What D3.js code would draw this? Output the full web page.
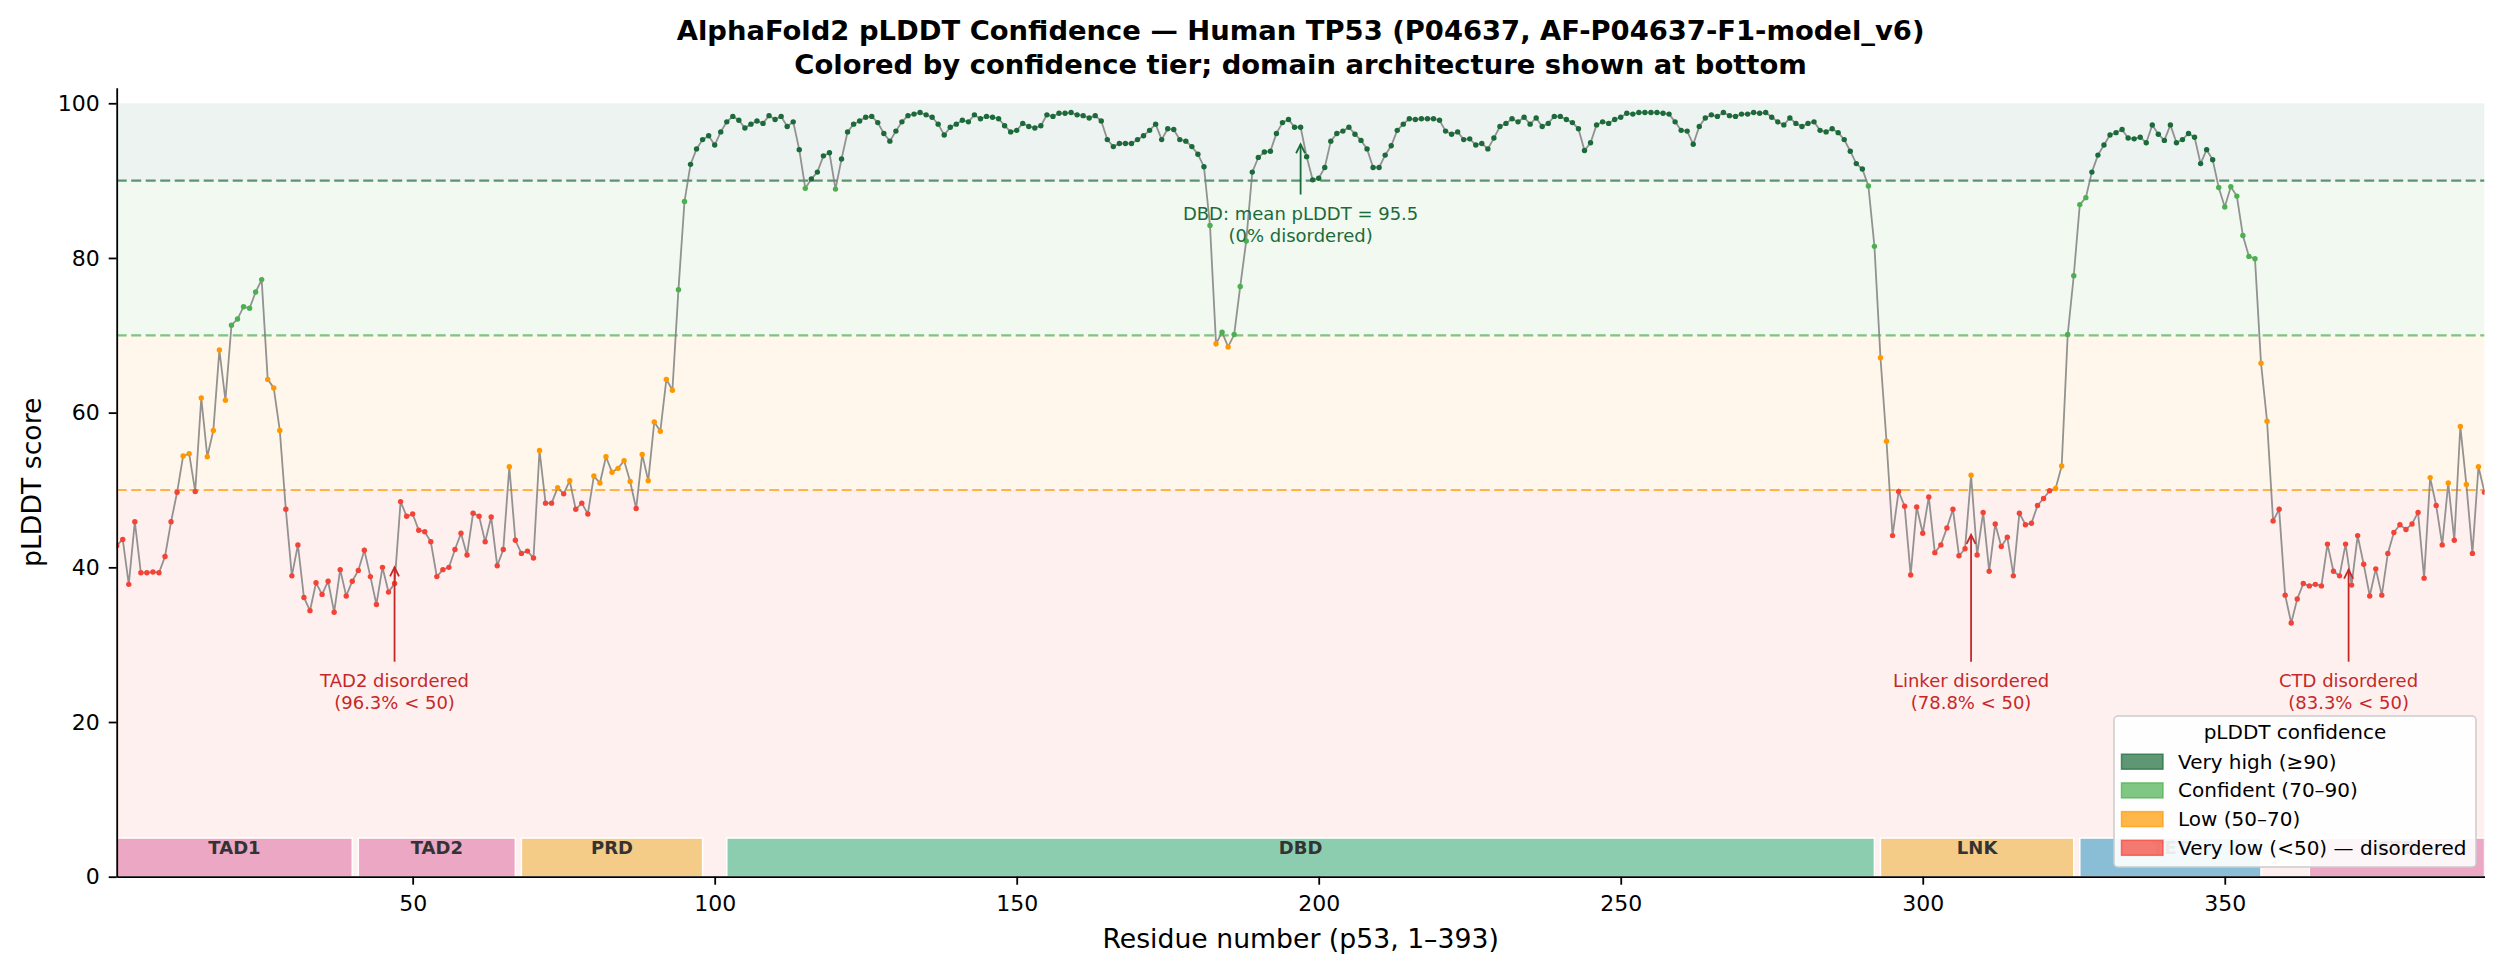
<!DOCTYPE html>
<html>
<head>
<meta charset="utf-8">
<script src="https://cdn.jsdelivr.net/npm/d3@7"></script>
<style>
body { margin: 0; background: #fff; }
text { font-family: "DejaVu Sans", sans-serif; }
</style>
</head>
<body>
<script>
// per-residue pLDDT for p53, residues 1..393
var plddt = [
  42.8, 43.6, 37.8, 45.9, 39.3, 39.3, 39.4, 39.3, 41.4, 45.9,
  49.7, 54.4, 54.7, 49.8, 61.9, 54.3, 57.7, 68.1, 61.6, 71.3,
  72.1, 73.7, 73.5, 75.6, 77.2, 64.3, 63.2, 57.7, 47.5, 38.9,
  42.9, 36.1, 34.4, 38.0, 36.5, 38.2, 34.2, 39.7, 36.3, 38.2,
  39.6, 42.2, 38.8, 35.2, 40.0, 36.8, 37.9, 48.5, 46.6, 46.9,
  44.8, 44.6, 43.3, 38.8, 39.7, 40.0, 42.3, 44.4, 41.6, 47.0,
  46.6, 43.3, 46.5, 40.2, 42.3, 53.0, 43.5, 41.8, 42.1, 41.2,
  55.1, 48.3, 48.3, 50.3, 49.5, 51.2, 47.5, 48.3, 46.9, 51.8,
  50.9, 54.3, 52.3, 52.8, 53.8, 51.1, 47.6, 54.6, 51.2, 58.8,
  57.6, 64.3, 62.9, 75.9, 87.3, 92.1, 94.1, 95.3, 95.8, 94.6,
  96.3, 97.6, 98.3, 97.8, 96.8, 97.3, 97.7, 97.4, 98.4, 97.9,
  98.3, 97.0, 97.6, 94.0, 89.0, 90.2, 91.1, 93.2, 93.6, 88.9,
  92.8, 96.3, 97.3, 97.7, 98.2, 98.3, 97.5, 96.1, 95.1, 96.4,
  97.6, 98.4, 98.6, 98.8, 98.5, 98.2, 97.3, 95.9, 96.9, 97.3,
  97.8, 97.6, 98.5, 98.0, 98.3, 98.2, 98.0, 97.1, 96.3, 96.5,
  97.4, 97.0, 96.8, 97.1, 98.5, 98.3, 98.7, 98.7, 98.8, 98.5,
  98.4, 98.1, 98.4, 97.7, 95.3, 94.4, 94.8, 94.8, 94.8, 95.3,
  95.8, 96.5, 97.3, 95.3, 96.7, 96.6, 95.3, 95.1, 94.4, 93.4,
  91.8, 84.2, 68.9, 70.4, 68.5, 70.1, 76.3, 82.2, 91.1, 93.0,
  93.7, 93.8, 96.1, 97.5, 97.9, 96.9, 96.9, 93.1, 90.1, 90.3,
  91.7, 95.1, 96.1, 96.4, 96.9, 96.0, 95.2, 94.1, 91.7, 91.7,
  93.3, 94.5, 96.5, 97.3, 98.0, 97.9, 98.0, 98.0, 98.0, 97.8,
  96.4, 96.0, 96.3, 95.3, 95.4, 94.6, 94.8, 94.1, 95.5, 97.0,
  97.4, 98.0, 97.6, 98.2, 97.3, 98.1, 97.0, 97.4, 98.3, 98.3,
  97.9, 97.5, 96.7, 93.9, 94.9, 97.2, 97.6, 97.4, 97.9, 98.2,
  98.7, 98.6, 98.8, 98.8, 98.8, 98.8, 98.7, 98.6, 97.6, 96.5,
  96.4, 94.7, 97.0, 98.1, 98.5, 98.3, 98.8, 98.4, 98.3, 98.6,
  98.6, 98.8, 98.7, 98.8, 98.2, 97.6, 97.2, 98.1, 97.4, 97.0,
  97.4, 97.6, 96.5, 96.3, 96.7, 96.2, 95.3, 93.8, 92.2, 91.5,
  89.3, 81.5, 67.1, 56.3, 44.1, 49.8, 47.9, 39.0, 47.8, 44.4,
  49.1, 41.9, 42.9, 45.1, 47.5, 41.5, 42.4, 51.9, 41.6, 47.1,
  39.5, 45.6, 42.7, 43.9, 38.9, 47.0, 45.5, 45.7, 48.0, 48.9,
  49.9, 50.2, 53.1, 70.1, 77.7, 86.9, 87.8, 91.1, 93.3, 94.6,
  95.9, 96.2, 96.6, 95.5, 95.4, 95.6, 94.9, 97.2, 96.0, 95.2,
  97.2, 94.9, 95.3, 96.1, 95.6, 92.2, 94.0, 92.7, 89.1, 86.6,
  89.2, 88.0, 82.9, 80.2, 79.9, 66.4, 58.9, 46.0, 47.5, 36.4,
  32.8, 35.9, 37.9, 37.6, 37.8, 37.6, 43.0, 39.5, 38.9, 43.0,
  37.7, 44.1, 40.4, 36.3, 39.8, 36.4, 41.8, 44.5, 45.5, 44.9,
  45.6, 47.1, 38.6, 51.6, 48.0, 42.9, 50.9, 43.5, 58.2, 50.7,
  41.8, 53.0, 49.7
];

// confidence tiers
var tierNames = ["Very high (\u226590)", "Confident (70\u201390)", "Low (50\u201370)", "Very low (<50) \u2014 disordered"];
var tierLow = [90, 70, 50, 0];
var tierHigh = [100, 90, 70, 50];
var tierColors = ["#1b6b3a", "#4caf50", "#ff9800", "#f44336"];

// domain architecture
var domainNames = ["TAD1", "TAD2", "PRD", "DBD", "LNK", "TET", "CTD"];
var domainStart = [1, 41, 68, 102, 293, 326, 364];
var domainEnd = [40, 67, 98, 292, 325, 356, 393];
var domainColors = ["#eba7c3", "#eba7c3", "#f4cb87", "#8ccdb0", "#f4cb87", "#8abdd6", "#eba7c3"];

var xTicks = [50, 100, 150, 200, 250, 300, 350];
var yTicks = [0, 20, 40, 60, 80, 100];

// callouts
var annoX = [197, 47, 308, 370.5];
var annoHead = [94.7, 40.0, 44.2, 39.7];
var annoTail = [88.2, 27.8, 27.8, 27.8];
var annoLine1 = ["DBD: mean pLDDT = 95.5", "TAD2 disordered", "Linker disordered", "CTD disordered"];
var annoLine2 = ["(0% disordered)", "(96.3% < 50)", "(78.8% < 50)", "(83.3% < 50)"];
var annoColor = ["#1b6b3a", "#c62828", "#c62828", "#c62828"];

var W = 2502, H = 973;
var box = {left: 116.7, right: 2484.5, top: 87.8, bottom: 876.7};

var svg = d3.select("body").append("svg")
    .attr("width", W)
    .attr("height", H);

var x = d3.scaleLinear().domain([1, 393]).range([box.left, box.right]);
var y = d3.scaleLinear().domain([0, 102]).range([box.bottom, box.top]);

function tierOf(v) {
    for (var i = 0; i < tierLow.length; i++) {
        if (v >= tierLow[i]) return i;
    }
    return 3;
}

svg.append("clipPath").attr("id", "plotclip")
  .append("rect")
    .attr("x", box.left).attr("y", box.top)
    .attr("width", box.right - box.left).attr("height", box.bottom - box.top);

var plot = svg.append("g").attr("clip-path", "url(#plotclip)");

// background bands
plot.selectAll("rect.band")
    .data(tierLow)
    .enter().append("rect")
    .attr("class", "band")
    .attr("x", box.left)
    .attr("width", box.right - box.left)
    .attr("y", function(d, i) { return y(tierHigh[i]); })
    .attr("height", function(d, i) { return y(d) - y(tierHigh[i]); })
    .style("fill", function(d, i) { return tierColors[i]; })
    .style("fill-opacity", 0.08);

// threshold lines
plot.selectAll("line.thr")
    .data([90, 70, 50])
    .enter().append("line")
    .attr("x1", box.left).attr("x2", box.right)
    .attr("y1", function(d) { return y(d); })
    .attr("y2", function(d) { return y(d); })
    .style("stroke", function(d, i) { return tierColors[i]; })
    .style("stroke-opacity", 0.7)
    .style("stroke-width", 2.2)
    .style("stroke-dasharray", "10,4.5");

// domain bars
plot.selectAll("rect.dom")
    .data(domainNames)
    .enter().append("rect")
    .attr("x", function(d, i) { return x(domainStart[i]); })
    .attr("width", function(d, i) { return x(domainEnd[i]) - x(domainStart[i]); })
    .attr("y", y(5))
    .attr("height", y(0) - y(5))
    .style("fill", function(d, i) { return domainColors[i]; })
    .style("stroke", "#fff")
    .style("stroke-width", 1.5);

plot.selectAll("text.dom")
    .data(domainNames)
    .enter().append("text")
    .attr("x", function(d, i) { return x((domainStart[i] + domainEnd[i]) / 2); })
    .attr("y", y(3.8))
    .attr("text-anchor", "middle")
    .attr("dominant-baseline", "central")
    .style("font-size", "18px")
    .style("font-weight", "bold")
    .style("fill", "#333")
    .text(function(d) { return d; });

// trace
var line = d3.line()
    .x(function(d, i) { return x(i + 1); })
    .y(function(d) { return y(d); });

plot.append("path")
    .datum(plddt)
    .attr("d", line)
    .style("fill", "none")
    .style("stroke", "#808080")
    .style("stroke-opacity", 0.85)
    .style("stroke-width", 1.8);

plot.selectAll("circle")
    .data(plddt)
    .enter().append("circle")
    .attr("cx", function(d, i) { return x(i + 1); })
    .attr("cy", function(d) { return y(d); })
    .attr("r", 2.7)
    .style("fill", function(d) { return tierColors[tierOf(d)]; });

// callouts
annoX.forEach(function(ax, i) {
    var g = svg.append("g").style("fill", annoColor[i]);
    var px = x(ax), yh = y(annoHead[i]), yt = y(annoTail[i]);
    g.append("line")
        .attr("x1", px).attr("x2", px).attr("y1", yt).attr("y2", yh)
        .style("stroke", annoColor[i]).style("stroke-width", 1.8);
    g.append("path")
        .attr("d", "M" + (px - 4.5) + "," + (yh + 9) + "L" + px + "," + yh + "L" + (px + 4.5) + "," + (yh + 9))
        .style("fill", "none").style("stroke", annoColor[i]).style("stroke-width", 1.8);
    g.append("text")
        .attr("x", px).attr("y", yt + 25)
        .attr("text-anchor", "middle")
        .style("font-size", "18px")
        .text(annoLine1[i]);
    g.append("text")
        .attr("x", px).attr("y", yt + 47)
        .attr("text-anchor", "middle")
        .style("font-size", "18px")
        .text(annoLine2[i]);
});

// axes
var xAxis = svg.append("g")
    .attr("transform", "translate(0," + box.bottom + ")")
    .call(d3.axisBottom(x).tickValues(xTicks).tickSize(8).tickSizeOuter(0).tickPadding(10.5));
var yAxis = svg.append("g")
    .attr("transform", "translate(" + box.left + ",0)")
    .call(d3.axisLeft(y).tickValues(yTicks).tickSize(8).tickSizeOuter(0).tickPadding(9));

[xAxis, yAxis].forEach(function(a) {
    a.selectAll("path").style("stroke", "#000").style("stroke-width", 1.8);
    a.selectAll("line").style("stroke", "#000").style("stroke-width", 1.8);
    a.selectAll("text").style("font-size", "22px").style("fill", "#000")
        .style("font-family", "'DejaVu Sans', sans-serif");
});

svg.append("text")
    .attr("x", (box.left + box.right) / 2).attr("y", 948)
    .attr("text-anchor", "middle")
    .style("font-size", "26.7px")
    .text("Residue number (p53, 1\u2013393)");

svg.append("text")
    .attr("transform", "translate(41," + ((box.top + box.bottom) / 2) + ") rotate(-90)")
    .attr("text-anchor", "middle")
    .style("font-size", "26.7px")
    .text("pLDDT score");

// title
var titleLines = ["AlphaFold2 pLDDT Confidence \u2014 Human TP53 (P04637, AF-P04637-F1-model_v6)",
                  "Colored by confidence tier; domain architecture shown at bottom"];
svg.selectAll("text.title")
    .data(titleLines)
    .enter().append("text")
    .attr("x", (box.left + box.right) / 2)
    .attr("y", function(d, i) { return 39.5 + i * 34; })
    .attr("text-anchor", "middle")
    .style("font-size", "27.4px")
    .style("font-weight", "bold")
    .text(function(d) { return d; });

// legend
var lg = svg.append("g");
lg.append("rect")
    .attr("x", 2114).attr("y", 716).attr("width", 362).attr("height", 151)
    .attr("rx", 4)
    .style("fill", "#fff").style("fill-opacity", 0.9)
    .style("stroke", "#ccc").style("stroke-width", 1.5);
lg.append("text")
    .attr("x", 2295).attr("y", 739)
    .attr("text-anchor", "middle")
    .style("font-size", "20px")
    .text("pLDDT confidence");
tierNames.forEach(function(name, i) {
    var cy = 761.7 + i * 28.7;
    lg.append("rect")
        .attr("x", 2121.5).attr("y", cy - 7.5).attr("width", 41.5).attr("height", 15)
        .style("fill", tierColors[i]).style("fill-opacity", 0.7)
        .style("stroke", tierColors[i]).style("stroke-opacity", 0.7).style("stroke-width", 1.5);
    lg.append("text")
        .attr("x", 2178).attr("y", cy + 7)
        .style("font-size", "20px")
        .text(name);
});
</script>
</body>
</html>
